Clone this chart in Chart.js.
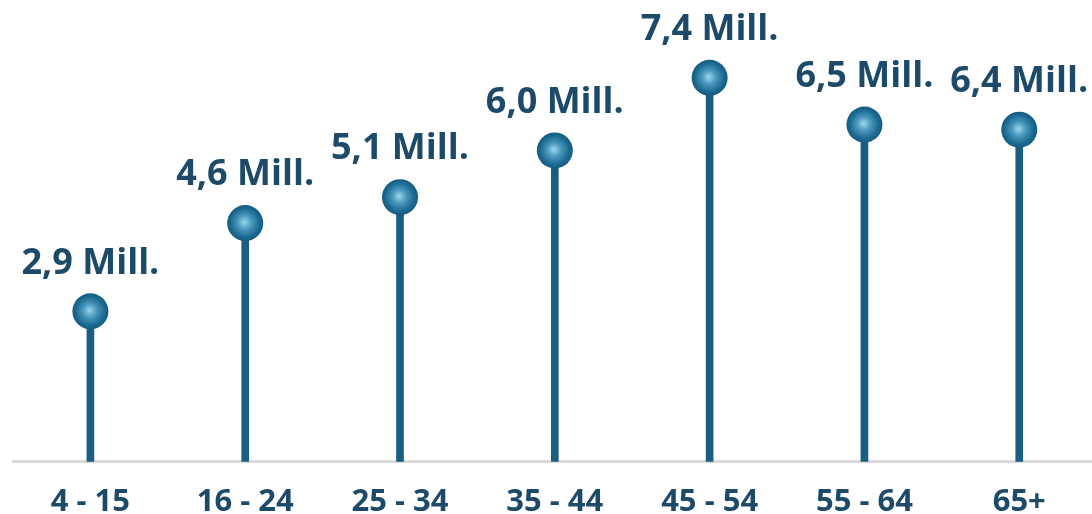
<!DOCTYPE html>
<html>
<head>
<meta charset="utf-8">
<script src="https://cdn.jsdelivr.net/npm/chart.js@4"></script>
<style>
  html, body { margin: 0; padding: 0; background: #fff; }
  #wrap { width: 1092px; height: 514px; }
</style>
</head>
<body>
<div id="wrap"><canvas id="chart"></canvas></div>
<script>
const categories = ['4 - 15', '16 - 24', '25 - 34', '35 - 44', '45 - 54', '55 - 64', '65+']
const viewers = [2.9, 4.6, 5.1, 6.0, 7.4, 6.5, 6.4]
const unit = 'Mill.'

const STEM = '#1a5e82'
const TEXT = '#1c4a68'

const points = viewers.map((v, i) => ({ x: i, y: v }))

// radial shine on each ball, centred on the point itself
const ballFill = (ctx) => {
  const chart = ctx.chart
  if (!chart.chartArea || ctx.type !== 'data') return STEM
  const px = chart.scales.x.getPixelForValue(ctx.raw.x)
  const py = chart.scales.y.getPixelForValue(ctx.raw.y)
  const g = chart.ctx.createRadialGradient(px - 1, py - 1, 0, px, py, 18)
  g.addColorStop(0, '#9ad8ee')
  g.addColorStop(0.4, '#4896ba')
  g.addColorStop(0.8, '#1c6a92')
  g.addColorStop(1, '#165a7e')
  return g
}

const valueLabels = {
  id: 'valueLabels',
  afterDatasetsDraw (chart) {
    const { ctx } = chart
    const meta = chart.getDatasetMeta(1)
    ctx.save()
    ctx.font = 'bold 36px "Open Sans"'
    ctx.fillStyle = TEXT
    ctx.textAlign = 'center'
    ctx.textBaseline = 'middle'
    meta.data.forEach((el, i) => {
      const txt = viewers[i].toFixed(1).replace('.', ',') + ' ' + unit
      ctx.fillText(txt, el.x, el.y - 48)
    })
    ctx.restore()
  }
}

new Chart(document.getElementById('chart'), {
  type: 'bar',
  data: {
    datasets: [
      {
        type: 'bar',
        data: points,
        backgroundColor: STEM,
        barThickness: 7,
        order: 2
      },
      {
        type: 'scatter',
        data: points,
        pointRadius: 18,
        pointHoverRadius: 18,
        pointBorderWidth: 0,
        pointBackgroundColor: ballFill,
        clip: false,
        order: 1
      }
    ]
  },
  options: {
    responsive: true,
    maintainAspectRatio: false,
    animation: false,
    layout: { autoPadding: false, padding: { left: 13, right: 0, top: 0, bottom: -29 } },
    plugins: {
      legend: { display: false },
      tooltip: { enabled: false }
    },
    scales: {
      x: {
        type: 'linear',
        offset: false,
        min: -0.5,
        max: 6.47,
        afterBuildTicks: (axis) => {
          axis.ticks = categories.map((c, i) => ({ value: i }))
        },
        grid: { display: false, drawTicks: false },
        border: { display: true, color: '#dadada', width: 3 },
        ticks: {
          padding: 22,
          color: TEXT,
          font: { family: 'Open Sans', weight: 'bold', size: 31 },
          maxRotation: 0,
          autoSkip: false,
          callback: (v) => categories[v]
        }
      },
      y: {
        display: false,
        min: 0,
        max: 8.9
      }
    }
  },
  plugins: [valueLabels]
})
</script>
</body>
</html>
